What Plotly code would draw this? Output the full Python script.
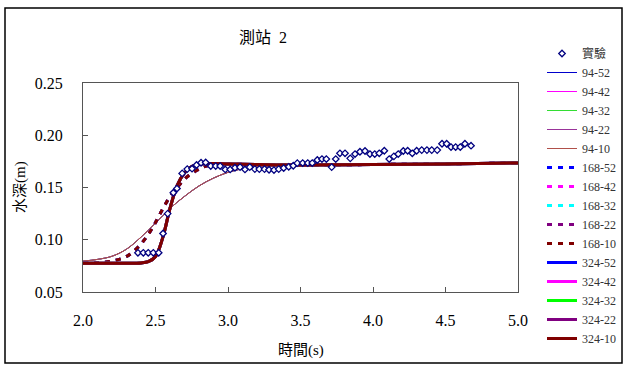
import plotly.graph_objects as go

# Experimental data (實驗)
t_exp = [2.379, 2.416, 2.450, 2.485, 2.522, 2.552, 2.584, 2.623, 2.648, 2.684,
         2.719, 2.752, 2.783, 2.814, 2.846, 2.881, 2.915, 2.946, 2.981, 3.015,
         3.048, 3.083, 3.117, 3.150, 3.185, 3.216, 3.252, 3.283, 3.317, 3.350,
         3.384, 3.419, 3.450, 3.478, 3.515, 3.550, 3.581, 3.616, 3.648, 3.678,
         3.715, 3.743, 3.772, 3.807, 3.843, 3.876, 3.910, 3.945, 3.979, 4.012,
         4.043, 4.078, 4.112, 4.144, 4.174, 4.209, 4.239, 4.271, 4.301, 4.336,
         4.372, 4.405, 4.443, 4.476, 4.508, 4.538, 4.570, 4.602, 4.634, 4.676]
h_exp = [0.0875, 0.0875, 0.0875, 0.0875, 0.0875, 0.106, 0.125, 0.145, 0.149, 0.1635,
         0.1676, 0.1680, 0.1715, 0.1737, 0.1740, 0.1705, 0.1705, 0.1705, 0.1673, 0.1673,
         0.1689, 0.1695, 0.1673, 0.1695, 0.1676, 0.1676, 0.1676, 0.1670, 0.1667, 0.1676,
         0.1686, 0.1698, 0.1708, 0.1733, 0.1734, 0.1734, 0.1734, 0.1763, 0.1772, 0.1772,
         0.1695, 0.1772, 0.1827, 0.1827, 0.1779, 0.1820, 0.1842, 0.1849, 0.1820, 0.1820,
         0.1827, 0.1852, 0.1772, 0.1798, 0.1820, 0.1849, 0.1852, 0.1827, 0.1852, 0.1858,
         0.1858, 0.1858, 0.1858, 0.1919, 0.1919, 0.1887, 0.1887, 0.1887, 0.1919, 0.1900]

# Model results, grouped by first number of the case name
t94 = [2.0, 2.1, 2.2, 2.3, 2.4, 2.5, 2.6, 2.7, 2.8, 2.9, 3.0, 3.1, 3.2, 3.35, 3.5, 4.0, 4.5, 5.0]
h94 = [0.0795, 0.0812, 0.0842, 0.0910, 0.1025, 0.1160, 0.1300, 0.1415, 0.1515, 0.1590,
       0.1645, 0.1680, 0.1700, 0.1712, 0.1716, 0.1720, 0.1726, 0.1735]

t168 = [2.0, 2.1, 2.2, 2.3, 2.38, 2.44, 2.49, 2.54, 2.59, 2.65, 2.7, 2.78, 2.85, 2.95,
        3.2, 3.5, 4.0, 4.5, 5.0]
h168 = [0.0775, 0.0780, 0.0795, 0.0840, 0.0930, 0.1030, 0.1140, 0.1270, 0.1390, 0.1500,
        0.1580, 0.1660, 0.1705, 0.1720, 0.1720, 0.1715, 0.1720, 0.1726, 0.1735]

t324 = [2.0, 2.1, 2.2, 2.3, 2.4, 2.45, 2.5, 2.55, 2.6, 2.65, 2.7, 2.75, 2.8, 2.9, 3.0,
        3.2, 3.5, 4.0, 4.5, 5.0]
h324 = [0.0775, 0.0775, 0.0775, 0.0775, 0.0778, 0.0790, 0.0840, 0.1020, 0.1300, 0.1520,
        0.1640, 0.1700, 0.1725, 0.1730, 0.1725, 0.1720, 0.1715, 0.1720, 0.1726, 0.1735]

suffixes = ["52", "42", "32", "22", "10"]
colors94 = ["#0000CC", "#FF00FF", "#33DD33", "#993399", "#B0504A"]
colors168 = ["#0000FF", "#FF00FF", "#00FFFF", "#800080", "#800000"]
colors324 = ["#0000FF", "#FF00FF", "#00FF00", "#800080", "#800000"]

SERIF = "Liberation Serif, Times New Roman, Noto Sans CJK TC, serif"

fig = go.Figure()
rank = 2
for s, c in zip(suffixes, colors94):
    fig.add_trace(go.Scatter(x=t94, y=h94, mode="lines", name="94-" + s,
                             line=dict(color=c, width=1, shape="spline"), legendrank=rank))
    rank += 1
for s, c in zip(suffixes, colors168):
    fig.add_trace(go.Scatter(x=t168, y=h168, mode="lines", name="168-" + s,
                             line=dict(color=c, width=3, dash="5px,6px", shape="spline"),
                             legendrank=rank))
    rank += 1
for s, c in zip(suffixes, colors324):
    fig.add_trace(go.Scatter(x=t324, y=h324, mode="lines", name="324-" + s,
                             line=dict(color=c, width=3, shape="spline"), legendrank=rank))
    rank += 1

fig.add_trace(go.Scatter(x=t_exp, y=h_exp, mode="markers", name="實驗",
                         marker=dict(symbol="diamond", size=5, color="white",
                                     line=dict(color="#000080", width=1.3)),
                         legendrank=1))

W, H = 623, 365
L, R, T, B = 83, 518, 83, 292
pw, ph = R - L, B - T

def px2paper_x(px):
    return (px - L) / pw

def px2paper_y(py):
    return (B - py) / ph

fig.update_layout(
    width=W, height=H,
    margin=dict(l=L, r=W - R, t=T, b=H - B, autoexpand=False),
    paper_bgcolor="white", plot_bgcolor="white",
    font=dict(family=SERIF, size=16, color="black"),
    showlegend=True,
    legend=dict(xref="container", yref="container",
                x=542 / W, y=1 - 39 / H, xanchor="left", yanchor="top",
                maxheight=340,
                font=dict(family=SERIF, size=12, color="#333"),
                bgcolor="rgba(0,0,0,0)", borderwidth=0, tracegroupgap=0),
    title=dict(text="測站\u00a0 2", x=263 / W, y=1 - 37 / H, xanchor="center", yanchor="middle",
               xref="container", yref="container",
               font=dict(family=SERIF, size=16, color="black")),
)

fig.update_xaxes(range=[2.0, 5.0], dtick=0.5, tick0=2.0, tickformat=".1f",
                 showgrid=False, zeroline=False, showline=True, linecolor="#555",
                 linewidth=1, mirror=True, ticks="inside", ticklen=5, tickcolor="#555",
                 ticklabelstandoff=14, tickfont=dict(family=SERIF, size=16))
fig.update_yaxes(range=[0.05, 0.25], dtick=0.05, tick0=0.05, tickformat=".2f",
                 showgrid=False, zeroline=False, showline=True, linecolor="#555",
                 linewidth=1, mirror=True, ticks="inside", ticklen=5, tickcolor="#555",
                 ticklabelstandoff=16, tickfont=dict(family=SERIF, size=16))

fig.add_annotation(text="時間(s)", xref="paper", yref="paper",
                   x=px2paper_x(301), y=px2paper_y(350), showarrow=False,
                   xanchor="center", yanchor="middle",
                   font=dict(family=SERIF, size=15, color="black"))
fig.add_annotation(text="水深(m)", xref="paper", yref="paper",
                   x=px2paper_x(20), y=px2paper_y(187), showarrow=False, textangle=-90,
                   xanchor="center", yanchor="middle",
                   font=dict(family=SERIF, size=15, color="black"))

# outer chart border
fig.add_shape(type="rect", xref="paper", yref="paper",
              x0=px2paper_x(5), x1=px2paper_x(622), y0=px2paper_y(363), y1=px2paper_y(8),
              line=dict(color="black", width=1.5), fillcolor="rgba(0,0,0,0)", layer="below")

fig.write_html("out.html")
